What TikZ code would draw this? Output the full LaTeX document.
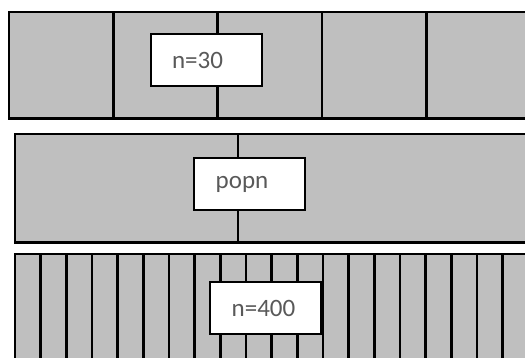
\documentclass[tikz,border=0pt]{standalone}
\usepackage{fontspec}
\setmainfont{Carlito}
\definecolor{bandgray}{HTML}{BFBFBF}
\definecolor{txtgray}{HTML}{595959}
\tikzset{
  band/.style={fill=bandgray, draw=black, line width=2.6pt},
  divider/.style={draw=black, line width=2.6pt},
  labelbox/.style={fill=white, draw=black, line width=2pt, minimum width=111pt, minimum height=52pt, inner sep=0pt, text=txtgray, font=\fontsize{25}{25}\selectfont}
}
\begin{document}
\begin{tikzpicture}[x=1pt,y=-1pt]
\useasboundingbox (0,0) rectangle (525,358);
\begin{scope}
\clip (0,0) rectangle (525,358);
% top band
\draw[band] (9,12) rectangle (531,118.5);
\foreach \k in {1,...,4} {\draw[divider] ({9+104.3*\k},12) -- ({9+104.3*\k},118.5);}
% middle band
\draw[band] (15,134) rectangle (531,242.5);
\draw[divider] (238,134) -- (238,242.5);
% bottom band
\draw[band] (15,254) rectangle (531,370);
\foreach \k in {1,...,19} {\draw[divider] ({15+25.67*\k},254) -- ({15+25.67*\k},370);}
\end{scope}
\node[labelbox] (n30) at (206.5,60) {n=30\kern18pt\relax};
\node[labelbox] (popn) at (249.5,184) {popn\kern15pt\relax};
\node[labelbox] (n400) at (265.5,308) {n=400\kern4pt\relax};
\end{tikzpicture}
\end{document}
